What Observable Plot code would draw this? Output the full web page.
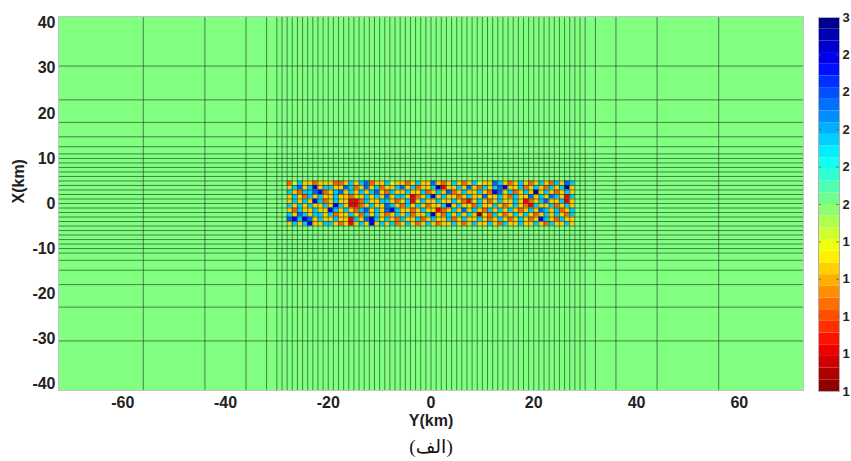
<!DOCTYPE html>
<html>
<head>
<meta charset="utf-8">
<script src="https://cdn.jsdelivr.net/npm/d3@7"></script>
<script src="https://cdn.jsdelivr.net/npm/@observablehq/plot@0.6"></script>
<style>
  body { margin: 0; background: #fff; }
  #wrap { position: relative; width: 851px; height: 461px; overflow: hidden; }
  #main { position: absolute; left: 0; top: 0; }
  #bar { position: absolute; left: 810px; top: 0; }
  #caption {
    position: absolute; left: 370px; width: 122px; top: 435px; text-align: center;
    font-family: "Times New Roman", "Liberation Serif", "DejaVu Sans", serif; font-size: 19px; color: #111;
  }
</style>
</head>
<body>
<div id="wrap">
  <div id="main"></div>
  <div id="bar"></div>
  <div id="caption">(الف)</div>
</div>
<script>
// Model extent (km): horizontal axis is Y, vertical axis is X
const modelExtentY = [-72.5, 72.5];
const modelExtentX = [-41.5, 41.5];

// Mesh node positions (km)
const meshNodesY = [-56, -44, -36, -32, -30, -29, -28, -27, -26, -25, -24, -23, -22, -21, -20,
  -19, -18, -17, -16, -15, -14, -13, -12, -11, -10, -9, -8, -7, -6, -5, -4, -3, -2, -1, 0,
  1, 2, 3, 4, 5, 6, 7, 8, 9, 10, 11, 12, 13, 14, 15, 16, 17, 18, 19, 20,
  21, 22, 23, 24, 25, 26, 27, 28, 29, 30, 32, 36, 44, 56];
const meshNodesX = [-30.5, -23, -18, -14.8, -12.6, -11, -10, -9, -8, -7, -6, -5, -4, -3, -2, -1, 0,
  1, 2, 3, 4, 5, 6, 7, 8, 9, 10, 11, 12.6, 14.8, 18, 23, 30.5];

// Host value of the model and colour limits
const hostValue = 2.0;
const colorLimits = [1, 3];

// Anomalous block: west edge, north edge (km) and cell size (km)
const blockWestY = -28;
const blockNorthX = 5;
const blockCell = 1;

// Cell values of the block, north row first, west to east
const row0 = [1.45,1.85,2.35,1.65,1.65,1.45,1.65,1.65, 1.65,1.45,1.45,1.65,2.35,1.65,2.35,2.55,
  1.45,1.65,1.65,2.35,1.85,1.65,1.65,1.45, 1.65,2.35,1.65,1.65,2.55,1.65,1.45,1.65,
  2.35,1.65,1.45,1.65,2.35,1.85,1.65,1.65, 2.55,2.35,1.65,1.45,1.65,2.35,1.65,1.45,
  1.65,2.35,1.65,1.45,2.35,1.65,2.55,2.35];
const row1 = [1.65,2.35,2.55,1.65,2.35,2.75,1.65,2.35, 2.35,1.65,1.65,2.55,2.35,1.45,1.65,2.55,
  1.65,2.35,1.45,1.65,1.65,2.35,2.55,1.65, 2.35,1.45,1.65,1.65,2.35,2.92,1.25,1.65,
  1.65,2.35,1.65,2.55,1.65,1.45,2.35,1.65, 2.35,2.55,2.75,1.65,1.65,2.35,1.45,1.65,
  2.35,1.65,1.45,2.35,1.65,2.35,2.92,1.65];
const row2 = [2.35,1.65,1.45,2.35,2.35,2.55,2.75,1.45, 1.65,2.35,2.55,1.65,2.35,1.65,2.35,1.65,
  2.35,2.55,1.65,1.45,2.35,1.65,1.65,2.35, 1.65,1.65,2.35,1.45,1.65,2.35,1.65,2.55,
  1.45,1.65,2.35,1.65,1.65,2.35,1.65,1.45, 2.75,2.55,1.65,2.35,1.45,1.65,2.35,1.65,
  2.92,1.65,2.35,1.65,1.45,1.65,2.35,1.65];
const row3 = [1.65,2.35,1.65,1.45,2.35,1.65,2.35,1.65, 1.65,2.35,1.65,1.65,1.45,1.65,1.65,2.35,
  1.65,2.35,1.65,2.55,1.65,2.35,2.35,1.65, 1.25,1.45,1.65,2.35,2.75,1.65,2.35,1.65,
  1.65,1.45,1.65,2.35,1.65,1.65,2.55,1.65, 1.65,2.35,1.65,1.45,2.35,1.65,1.65,2.55,
  1.65,2.35,1.65,2.55,2.35,1.65,1.25,2.35];
const row4 = [1.65,2.35,1.65,2.35,1.65,2.75,2.35,1.45, 1.65,2.35,1.65,1.65,1.25,1.25,1.45,2.35,
  1.65,1.65,2.35,2.35,1.65,1.45,1.65,2.35, 1.25,1.65,2.35,1.65,1.65,2.35,1.65,1.65,
  2.35,1.65,1.45,1.25,1.65,2.35,1.65,1.45, 1.65,2.35,1.65,1.65,2.35,1.65,1.25,1.45,
  1.65,2.35,2.55,1.65,1.65,2.35,1.25,1.65];
const row5 = [2.35,1.65,2.35,1.65,2.35,1.65,1.65,2.35, 1.65,2.75,2.35,1.65,1.25,1.25,1.45,1.65,
  2.35,1.65,1.65,2.55,2.35,1.65,1.45,2.35, 1.65,2.35,1.65,1.45,1.65,1.65,2.35,2.75,
  1.65,2.35,1.65,1.65,1.45,2.35,1.65,1.65, 2.35,1.65,1.45,1.65,2.35,1.65,1.45,1.25,
  2.35,1.65,1.65,2.35,1.45,1.65,2.35,1.65];
const row6 = [1.65,1.45,2.35,1.65,1.65,2.35,1.65,1.65, 2.75,2.35,1.65,2.35,1.65,1.45,2.35,2.55,
  1.65,2.35,1.65,2.55,2.75,2.35,1.65,1.65, 1.45,1.65,2.35,1.65,1.65,1.25,1.45,1.65,
  2.35,1.65,2.55,1.65,2.35,1.65,1.45,2.35, 1.65,2.35,1.65,2.35,1.65,1.45,1.65,2.35,
  1.65,2.55,2.35,1.65,2.35,1.45,1.65,2.35];
const row7 = [2.35,1.65,2.55,2.35,1.65,2.35,2.35,1.65, 2.35,1.45,1.65,1.65,2.35,1.65,1.45,2.35,
  1.65,2.35,1.65,1.45,1.65,2.35,1.65,2.35, 1.45,1.65,1.65,2.35,2.92,1.65,1.45,2.35,
  1.65,2.35,1.65,2.35,1.65,1.05,1.65,1.45, 2.35,1.65,1.45,1.65,2.35,1.65,2.35,1.65,
  1.45,1.65,2.35,1.65,2.35,1.65,1.45,2.35];
const row8 = [2.55,2.75,2.35,2.75,2.55,1.65,2.35,1.65, 1.65,2.35,1.65,1.65,1.25,2.35,1.65,2.55,
  2.75,2.35,1.65,2.35,1.65,1.45,2.35,1.65, 1.65,2.35,1.45,1.65,2.35,1.65,1.65,2.35,
  1.45,1.65,2.35,1.65,1.65,2.35,1.65,1.45, 1.65,2.35,1.65,1.45,1.65,2.35,1.65,1.45,
  1.65,2.75,2.35,1.65,1.45,2.35,1.65,1.65];
const row9 = [1.65,2.35,1.65,2.35,2.75,1.65,1.65,2.35, 2.35,1.65,1.45,1.65,1.25,1.65,2.35,1.65,
  2.75,1.65,2.35,1.65,2.35,1.45,1.65,2.35, 1.65,1.45,1.65,2.35,1.65,1.45,1.65,1.65,
  2.35,1.65,1.45,1.65,2.35,1.65,1.65,2.35, 1.65,1.45,2.35,1.65,1.65,2.35,1.65,1.65,
  2.35,1.65,1.45,2.35,1.65,1.65,2.35,1.65];
const blockRows = [row0, row1, row2, row3, row4, row5, row6, row7, row8, row9];

// Axis ticks and their labels
const yKmTicks = [-60, -40, -20, 0, 20, 40, 60];
const yKmLabels = ["-60", "-40", "-20", "0", "20", "40", "60"];
const xKmTicks = [-40, -30, -20, -10, 0, 10, 20, 30, 40];
const xKmLabels = ["-40", "-30", "-20", "-10", "0", "10", "20", "30", "40"];
const colorbarTicks = [1, 1.2, 1.4, 1.6, 1.8, 2, 2.2, 2.4, 2.6, 2.8, 3];
const colorbarLabels = ["1", "1", "1", "1", "1", "2", "2", "2", "2", "2", "3"];

// MATLAB-style jet colormap, reversed so that high values are blue
function jet(t) {
  const c = v => Math.max(0, Math.min(1, v));
  const r = c(1.5 - Math.abs(4 * t - 3));
  const g = c(1.5 - Math.abs(4 * t - 2));
  const b = c(1.5 - Math.abs(4 * t - 1));
  return d3.rgb(r * 255, g * 255, b * 255).formatHex();
}
const jetReversed = t => jet(1 - t);
const colorScale = {type: "linear", domain: colorLimits, interpolate: jetReversed};

// Block cells as rectangles
const cells = blockRows.flatMap((row, r) => row.map((value, c) => ({
  west: blockWestY + c * blockCell,
  east: blockWestY + (c + 1) * blockCell,
  north: blockNorthX - r * blockCell,
  south: blockNorthX - (r + 1) * blockCell,
  value
})));

const font = "'Liberation Sans', Arial, Helvetica, sans-serif";
const meshStyle = {stroke: "#1a331a", strokeOpacity: 0.6, strokeWidth: 1};

const mainPlot = Plot.plot({
  width: 810,
  height: 432,
  marginLeft: 58,
  marginRight: 7,
  marginTop: 16,
  marginBottom: 42,
  style: {fontFamily: font, fontSize: "16px", fontWeight: "bold", color: "#222", background: "transparent"},
  x: {domain: modelExtentY, label: null},
  y: {domain: modelExtentX, label: null},
  color: colorScale,
  marks: [
    Plot.rect([hostValue], {
      x1: modelExtentY[0], x2: modelExtentY[1], y1: modelExtentX[0], y2: modelExtentX[1],
      fill: d => d
    }),
    Plot.rect(cells, {x1: "west", x2: "east", y1: "south", y2: "north", fill: "value"}),
    Plot.ruleX(meshNodesY, meshStyle),
    Plot.ruleY(meshNodesX, meshStyle),
    Plot.frame({stroke: "#c4c4c4"}),
    Plot.axisX(yKmTicks, {
      tickSize: 0, tickPadding: 6, label: null,
      tickFormat: d => yKmLabels[yKmTicks.indexOf(d)]
    }),
    Plot.axisY(xKmTicks, {
      tickSize: 0, tickPadding: 3, label: null,
      tickFormat: d => xKmLabels[xKmTicks.indexOf(d)]
    }),
    Plot.text(["Y(km)"], {text: d => d, frameAnchor: "bottom", dy: 35, fill: "#222"}),
    Plot.text(["X(km)"], {text: d => d, frameAnchor: "left", dx: -40, rotate: -90, fill: "#222"})
  ]
});
document.getElementById("main").appendChild(mainPlot);

// Colour bar drawn as 32 discrete bands
const bandCount = 32;
const bandStep = (colorLimits[1] - colorLimits[0]) / bandCount;
const bands = d3.range(bandCount).map(i => ({
  lo: colorLimits[0] + i * bandStep,
  hi: colorLimits[0] + (i + 1) * bandStep,
  mid: colorLimits[0] + (i + 0.5) * bandStep
}));

const barPlot = Plot.plot({
  width: 41,
  height: 432,
  marginLeft: 8,
  marginRight: 12,
  marginTop: 17,
  marginBottom: 41,
  style: {fontFamily: font, fontSize: "13px", fontWeight: "bold", color: "#222", background: "transparent", overflow: "visible"},
  x: {domain: [0, 1], axis: null},
  y: {domain: colorLimits, axis: null},
  color: colorScale,
  marks: [
    Plot.rect(bands, {x1: 0, x2: 1, y1: "lo", y2: "hi", fill: "mid"}),
    Plot.ruleY(colorbarTicks, {x1: 0, x2: 0.14, stroke: "#555", strokeOpacity: 0.7}),
    Plot.ruleY(colorbarTicks, {x1: 0.86, x2: 1, stroke: "#555", strokeOpacity: 0.7}),
    Plot.frame({stroke: "#b0b0b0"}),
    Plot.axisY(colorbarTicks, {
      anchor: "right", tickSize: 0, tickPadding: 3, label: null,
      tickFormat: d => colorbarLabels[colorbarTicks.indexOf(d)]
    })
  ]
});
document.getElementById("bar").appendChild(barPlot);
</script>
</body>
</html>
